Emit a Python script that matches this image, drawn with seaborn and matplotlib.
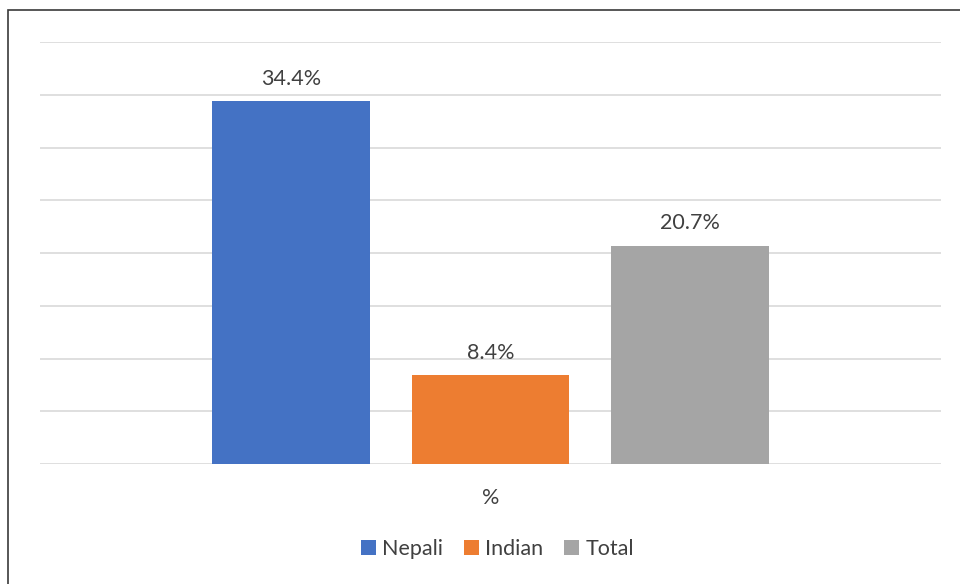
import matplotlib
matplotlib.use("Agg")
import matplotlib.pyplot as plt
from matplotlib.patches import Rectangle, Patch
import seaborn as sns
import pandas as pd

# Share of respondents by group
categories = ["%"]
groups = ["Nepali", "Indian", "Total"]
values = [34.4, 8.4, 20.7]
colors = ["#4472C4", "#ED7D31", "#A5A5A5"]

df = pd.DataFrame({
    "category": categories * len(groups),
    "group": groups,
    "value": values,
})

sns.set_theme(style="white")
plt.rcParams["font.family"] = ["Lato", "DejaVu Sans"]
text_color = "#404040"
fs = 15.5

W, H = 960, 584
fig = plt.figure(figsize=(W / 100, H / 100), dpi=100)
ax = fig.add_axes([40 / W, 1 - 464 / H, (941 - 40) / W, (464 - 42) / H])

sns.barplot(data=df, x="category", y="value", hue="group", palette=colors,
            hue_order=groups, width=0.8, gap=0.21, saturation=1,
            linewidth=0, legend=False, ax=ax)

ax.set_ylim(0, 40)
ax.set_xlim(-0.602, 0.602)
ax.set_yticks(range(0, 41, 5))
ax.yaxis.grid(True, color="#d9d9d9", linewidth=1.2)
ax.set_axisbelow(True)
ax.tick_params(axis="y", left=False, labelleft=False)
ax.tick_params(axis="x", length=0, pad=17, labelsize=fs, labelcolor=text_color)
ax.set_xlabel("")
ax.set_ylabel("")
for s in ax.spines.values():
    s.set_visible(False)

for cont in ax.containers:
    ax.bar_label(cont, fmt="%.1f%%", padding=9, fontsize=fs, color=text_color)

handles = [Patch(facecolor=c, edgecolor="none") for c in colors]
fig.legend(handles, groups, loc="center", bbox_to_anchor=(0.518, 1 - 549 / H),
           ncol=3, frameon=False, fontsize=fs, labelcolor=text_color,
           handlelength=0.7, handleheight=0.7, handletextpad=0.3,
           columnspacing=0.95)

# Chart frame
fig.patches.append(Rectangle((8 / W, -0.05), 1.0, 1 - 10 / H + 0.05,
                             transform=fig.transFigure, fill=False,
                             edgecolor="#3a3a3a", linewidth=1.2))

fig.savefig("out.png", dpi=100, facecolor="white")
